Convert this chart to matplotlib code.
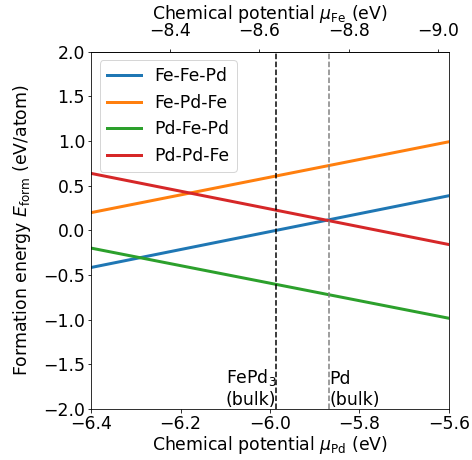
import numpy as np
import matplotlib.pyplot as plt

# chemical potential range of Pd (eV)
muPd = [-6.4, -5.6]

# formation energies at both ends (eV/atom)
labels = ['Fe-Fe-Pd', 'Fe-Pd-Fe', 'Pd-Fe-Pd', 'Pd-Pd-Fe']
eForm = [[-0.417, 0.386],
         [0.197, 0.990],
         [-0.200, -0.985],
         [0.636, -0.160]]
colors = ['tab:blue', 'tab:orange', 'tab:green', 'tab:red']

# bulk references
muFePd3 = -5.986
muPdBulk = -5.867

# mu_Fe = muSum - mu_Pd
muSum = -14.624
topTicks = [-8.4, -8.6, -8.8, -9.0]

plt.rcParams['font.size'] = 17.2
plt.rcParams['xtick.major.pad'] = 2.5
plt.rcParams['ytick.major.pad'] = 2.5

dpi = 72
fig = plt.figure(figsize=(472/dpi, 460/dpi), dpi=dpi)
ax = fig.add_axes([0.193, 0.111, 0.758, 0.777])

for lab, e, c in zip(labels, eForm, colors):
    ax.plot(muPd, e, color=c, lw=3, label=lab)

ax.axvline(muFePd3, color='k', ls='--', lw=1.5)
ax.axvline(muPdBulk, color='grey', ls='--', lw=1.5)
ax.text(muFePd3, -2.0, 'FePd$_3$\n(bulk)', ha='right', va='bottom')
ax.text(muPdBulk, -2.0, 'Pd\n(bulk)', ha='left', va='bottom')

ax.set_xlim(-6.4, -5.6)
ax.set_ylim(-2, 2)
ax.set_xticks([-6.4, -6.2, -6.0, -5.8, -5.6])
ax.set_xlabel(r'Chemical potential $\mu_\mathrm{Pd}$ (eV)', labelpad=1)
ax.set_ylabel(r'Formation energy $E_\mathrm{form}$ (eV/atom)', labelpad=10)
ax.legend(loc='upper left')

sec = ax.secondary_xaxis('top', functions=(lambda x: muSum - x, lambda x: muSum - x))
sec.set_xticks(topTicks)
sec.tick_params(pad=8)
sec.set_xlabel(r'Chemical potential $\mu_\mathrm{Fe}$ (eV)', labelpad=3)

fig.savefig('out.png', dpi=dpi)
